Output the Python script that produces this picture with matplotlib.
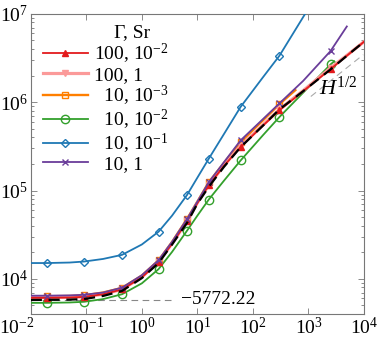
import numpy as np
import matplotlib
matplotlib.use("Agg")
import matplotlib.pyplot as plt
import matplotlib.transforms as mtransforms

plt.rcParams['font.family'] = ['Liberation Serif', 'DejaVu Serif']
plt.rcParams['mathtext.fontset'] = 'custom'
plt.rcParams['mathtext.rm'] = 'Liberation Serif'
plt.rcParams['mathtext.it'] = 'Liberation Serif:italic'
plt.rcParams['axes.unicode_minus'] = False

# common H grid (x axis) for the clustered curves
x_grid = [0.01, 0.0194, 0.05, 0.091, 0.2, 0.44, 1.0, 2.0, 3.5, 6.5, 10, 16, 30, 60, 150, 300, 800, 2500, 5000, 10000]
mark_idx = [1, 3, 5, 7, 9, 11, 13, 15, 17]

# Gamma=100, Sr=1e-2
y_red = [6.1e3, 6.1e3, 6.15e3, 6.25e3, 6.7e3, 7.6e3, 1.04e4, 1.55e4, 2.5e4, 4.5e4,
         7.2e4, 1.15e5, 1.9e5, 3.1e5, 5.4e5, 8.1e5, 1.33e6, 2.37e6, 3.39e6, 4.84e6]
# Gamma=100, Sr=1
y_pink = [6.15e3, 6.15e3, 6.2e3, 6.25e3, 6.7e3, 7.6e3, 1.05e4, 1.57e4, 2.52e4, 4.5e4,
          7.3e4, 1.15e5, 1.92e5, 3.2e5, 5.5e5, 8.3e5, 1.35e6, 2.45e6, 3.42e6, 4.84e6]
# Gamma=10, Sr=1e-3 (stops near H=600)
x_orange = x_grid[:16] + [580]
y_orange = [6.35e3, 6.35e3, 6.4e3, 6.5e3, 7.0e3, 7.9e3, 1.09e4, 1.62e4, 2.62e4, 4.76e4,
            7.5e4, 1.24e5, 2.05e5, 3.54e5, 6.2e5, 9.5e5, 1.37e6]
# Gamma=10, Sr=1e-2 (stops near H=2900)
x_green = x_grid[:18] + [2900]
y_green = [5.35e3, 5.35e3, 5.4e3, 5.5e3, 5.9e3, 6.7e3, 8.9e3, 1.29e4, 2.02e4, 3.51e4,
           5.2e4, 7.9e4, 1.29e5, 2.19e5, 4.2e5, 6.8e5, 1.28e6, 2.68e6, 2.9e6]
# Gamma=10, Sr=1e-1
x_blue = [0.01, 0.0194, 0.05, 0.091, 0.2, 0.44, 1.0, 2.0, 3.5, 6.5, 10, 16, 30, 60, 150, 300, 870]
y_blue = [1.51e4, 1.51e4, 1.53e4, 1.57e4, 1.68e4, 1.87e4, 2.45e4, 3.42e4, 5.2e4, 8.9e4,
          1.4e5, 2.29e5, 4.35e5, 8.85e5, 1.9e6, 3.36e6, 1.0e7]
# Gamma=10, Sr=1 (stops near H=4900)
x_purple = x_grid[:18] + [4900]
y_purple = [6.45e3, 6.45e3, 6.5e3, 6.6e3, 7.0e3, 7.96e3, 1.1e4, 1.63e4, 2.63e4, 4.76e4,
            7.5e4, 1.24e5, 2.09e5, 3.7e5, 6.4e5, 9.7e5, 1.74e6, 3.8e6, 7.2e6]
# reference curve (black dashed)
y_ref = [5.77e3, 5.78e3, 5.82e3, 5.9e3, 6.4e3, 7.3e3, 1.02e4, 1.51e4, 2.45e4, 4.3e4,
         7.1e4, 1.1e5, 1.85e5, 3.1e5, 5.4e5, 8.3e5, 1.33e6, 2.35e6, 3.39e6, 4.84e6]

asym_x = [0.01, 4.0]
asym_y = [5772.22, 5772.22]
slope_x = [1100, 9700]
slope_y = [1.16e6, 3.45e6]

fig = plt.figure(figsize=(3.8, 3.38), dpi=100)
ax = fig.add_axes([0.081, 0.071, 0.877, 0.888])

ax.plot(asym_x, asym_y, ls=(0, (6, 4)), color='#888888', lw=0.8)
ax.plot(slope_x, slope_y, ls=(0, (6, 4)), color='#aaaaaa', lw=0.8)

lw = 1.3
ms = 5
ax.plot(x_blue, y_blue, color='#1f78b4', lw=lw, marker='D', mfc='none', ms=ms - 0.5,
        markevery=mark_idx[:8], label='10, 10$^{-1}$', zorder=3)
ax.plot(x_green, y_green, color='#33a02c', lw=lw, marker='o', mfc='none', ms=ms + 1,
        markevery=mark_idx, label='10, 10$^{-2}$', zorder=3)
ax.plot(x_orange, y_orange, color='#ff7f00', lw=lw + 0.4, marker='s', mfc='none', ms=ms,
        markevery=mark_idx[:8], label='10, 10$^{-3}$', zorder=3)
ax.plot(x_grid, y_pink, color='#fb9a99', lw=lw + 1.0, marker='v', ms=ms,
        markevery=mark_idx, label='100, 1', zorder=3)
ax.plot(x_grid, y_red, color='#e31a1c', lw=lw, marker='^', ms=ms - 1,
        markevery=mark_idx, label='100, 10$^{-2}$', zorder=4)
ax.plot(x_purple, y_purple, color='#6a3d9a', lw=lw, marker='x', ms=ms,
        markevery=mark_idx, label='10, 1', zorder=4)
ax.plot(x_grid, y_ref, color='black', lw=1.6, ls=(0, (5, 3)), zorder=5)

ax.set_xscale('log')
ax.set_yscale('log')
ax.set_xlim(1e-2, 1e4)
ax.set_ylim(4e3, 1e7)

for s in ax.spines.values():
    s.set_color('#777777')
    s.set_linewidth(0.8)
ax.tick_params(which='both', direction='in', top=True, right=True, color='#777777',
               labelsize=14, width=0.6)
ax.tick_params(which='major', length=4, pad=2)
ax.tick_params(which='minor', length=2.5)
ax.set_xticks([1e-2, 1e-1, 1e0, 1e1, 1e2, 1e3, 1e4])
ax.set_yticks([1e4, 1e5, 1e6, 1e7])
fig.canvas.draw()
first = ax.get_xticklabels()[0]
first.set_horizontalalignment('right')
first.set_transform(first.get_transform() + mtransforms.ScaledTranslation(4 / 100, 0, fig.dpi_scale_trans))

ax.text(24, 5772.22, '\u22125772.22', fontsize=14, ha='center', va='center')
ax.text(3500, 1.45e6, '$H^{1/2}$', fontsize=16, ha='center', va='center')

handles, labels = ax.get_legend_handles_labels()
order = [4, 3, 2, 1, 0, 5]
lab_pad = ['100, 10$^{-2}$', '100, 1', '  10, 10$^{-3}$', '  10, 10$^{-2}$', '  10, 10$^{-1}$', '  10, 1']
leg = ax.legend([handles[i] for i in order], lab_pad, loc='upper left',
                bbox_to_anchor=(43 / 380, 1 - 42 / 338), bbox_transform=fig.transFigure,
                frameon=False, fontsize=14, borderpad=0, borderaxespad=0,
                handlelength=2.3, handletextpad=0.3, labelspacing=0.0)
fig.text(132 / 380, 1 - 33 / 338, '\u0393, Sr', fontsize=14, ha='center', va='center')

fig.savefig('out.png', dpi=100)
